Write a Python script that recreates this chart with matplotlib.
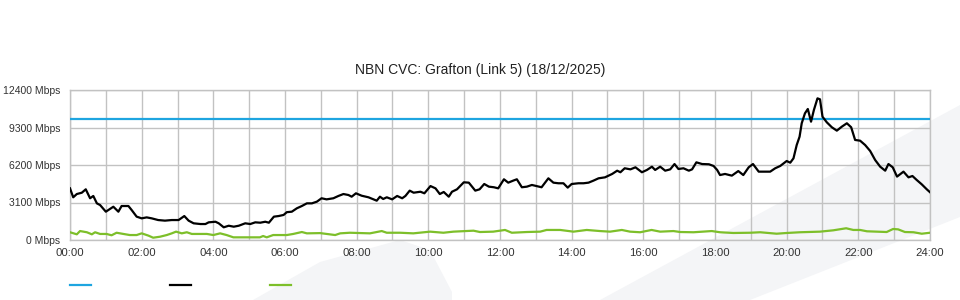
import matplotlib.pyplot as plt
from matplotlib.patches import Polygon
from matplotlib.lines import Line2D

plt.rcParams["font.family"] = ["Liberation Sans", "DejaVu Sans"]

TITLE = "NBN CVC: Grafton (Link 5) (18/12/2025)"

# capacity line (Mbps)
capacity_hours = [0, 24]
capacity_mbps = [10000, 10000]

# download traffic, hours of day vs Mbps
down_hours = [
    0.0, 0.09, 0.19, 0.33, 0.44, 0.56, 0.65, 0.75, 0.84, 1.0,
    1.21, 1.35, 1.44, 1.63, 1.72, 1.86, 2.0, 2.14, 2.28, 2.46,
    2.65, 2.84, 3.03, 3.19, 3.31, 3.45, 3.64, 3.78, 3.87, 4.06,
    4.15, 4.29, 4.43, 4.57, 4.71, 4.89, 5.03, 5.17, 5.31, 5.45,
    5.55, 5.69, 5.82, 5.96, 6.05, 6.19, 6.33, 6.47, 6.61, 6.75,
    6.89, 7.02, 7.16, 7.35, 7.49, 7.63, 7.77, 7.86, 7.98, 8.14,
    8.33, 8.56, 8.65, 8.74, 8.84, 8.99, 9.13, 9.27, 9.36, 9.48,
    9.59, 9.78, 9.89, 10.06, 10.2, 10.32, 10.43, 10.57, 10.66, 10.8,
    10.99, 11.13, 11.31, 11.43, 11.56, 11.69, 11.83, 11.95, 12.11, 12.23,
    12.37, 12.47, 12.61, 12.75, 12.89, 13.02, 13.16, 13.35, 13.49, 13.63,
    13.77, 13.89, 14.0, 14.19, 14.33, 14.47, 14.61, 14.75, 14.93, 15.13,
    15.27, 15.36, 15.48, 15.64, 15.78, 15.96, 16.1, 16.24, 16.33, 16.47,
    16.61, 16.75, 16.87, 16.98, 17.12, 17.27, 17.36, 17.48, 17.64, 17.83,
    17.96, 18.06, 18.14, 18.28, 18.47, 18.65, 18.79, 18.94, 19.06, 19.22,
    19.4, 19.54, 19.68, 19.82, 20.0, 20.1, 20.19, 20.28, 20.36, 20.42,
    20.51, 20.59, 20.68, 20.76, 20.86, 20.93, 21.0, 21.12, 21.26, 21.4,
    21.54, 21.68, 21.8, 21.91, 22.05, 22.19, 22.33, 22.47, 22.61, 22.75,
    22.84, 22.96, 23.08, 23.26, 23.4, 23.51, 23.63, 23.77, 23.91, 24.0,
]
down_mbps = [
    4270, 3530, 3800, 3910, 4190, 3450, 3640, 3030, 2890, 2340,
    2750, 2340, 2810, 2810, 2480, 1930, 1790, 1870, 1790, 1650,
    1600, 1650, 1650, 1980, 1600, 1380, 1320, 1320, 1460, 1510,
    1380, 1050, 1180, 1100, 1180, 1380, 1320, 1460, 1430, 1510,
    1430, 1930, 1980, 2070, 2300, 2340, 2620, 2810, 3030, 3030,
    3170, 3450, 3360, 3450, 3640, 3800, 3720, 3580, 3860, 3660,
    3530, 3250, 3580, 3390, 3530, 3360, 3640, 3450, 3640, 4080,
    3910, 3990, 3860, 4460, 4270, 3800, 3970, 3580, 3990, 4190,
    4770, 4740, 4080, 4190, 4630, 4410, 4360, 4270, 5020, 4740,
    4910, 5020, 4360, 4410, 4550, 4460, 4360, 5100, 4740, 4690,
    4690, 4330, 4630, 4690, 4690, 4740, 4910, 5100, 5180, 5460,
    5730, 5600, 5930, 5840, 6010, 5600, 5790, 6060, 5790, 6060,
    5730, 5840, 6280, 5870, 5930, 5730, 5840, 6420, 6280, 6260,
    6120, 5790, 5370, 5460, 5320, 5700, 5370, 6010, 6280, 5650,
    5650, 5650, 5930, 6120, 6530, 6390, 6750, 7850, 8540, 9650,
    10470, 10830, 9780, 10750, 11710, 11630, 10190, 9730, 9320, 9040,
    9370, 9650, 9320, 8270, 8210, 7850, 7360, 6610, 6060, 5730,
    6280, 6010, 5240, 5650, 5180, 5290, 4960, 4600, 4190, 3950,
]

# upload traffic
up_hours = [
    0.0, 0.19, 0.28, 0.47, 0.61, 0.7, 0.84, 1.02, 1.16, 1.3,
    1.49, 1.67, 1.86, 2.0, 2.19, 2.32, 2.51, 2.7, 2.84, 2.96,
    3.12, 3.26, 3.4, 3.63, 3.82, 4.0, 4.19, 4.37, 4.56, 4.93,
    5.3, 5.39, 5.49, 5.67, 6.05, 6.23, 6.47, 6.61, 6.98, 7.4,
    7.54, 7.81, 8.37, 8.7, 8.84, 9.21, 9.58, 10.05, 10.42, 10.7,
    11.26, 11.44, 11.81, 12.14, 12.33, 12.75, 13.12, 13.3, 13.68, 14.05,
    14.42, 14.79, 15.07, 15.4, 15.63, 15.91, 16.23, 16.47, 16.84, 17.03,
    17.4, 17.91, 18.14, 18.51, 18.98, 19.26, 19.72, 20.0, 20.37, 20.93,
    21.3, 21.66, 21.86, 22.05, 22.24, 22.79, 22.97, 23.11, 23.3, 23.54,
    23.77, 24.0,
]
up_mbps = [
    640, 470, 740, 640, 470, 640, 500, 500, 390, 600,
    500, 410, 410, 550, 360, 190, 270, 410, 550, 690,
    550, 640, 500, 500, 500, 410, 550, 410, 220, 220,
    220, 330, 220, 410, 410, 500, 660, 550, 570, 410,
    550, 600, 550, 740, 600, 600, 550, 690, 600, 690,
    770, 660, 690, 830, 600, 660, 690, 830, 830, 690,
    830, 740, 690, 830, 690, 640, 830, 690, 740, 660,
    640, 740, 640, 580, 600, 640, 520, 580, 640, 690,
    800, 970, 830, 830, 720, 660, 910, 880, 660, 640,
    520, 600,
]

y_ticks = [0, 3100, 6200, 9300, 12400]
x_ticks = list(range(0, 25, 2))
x_tick_labels = [f"{h:02d}:00" for h in x_ticks]

BLUE = "#1ea5e0"
GREEN = "#7dbf2a"
WATERMARK = "#f4f5f7"
GRID = "#c2c2c2"


def px(x, y):
    return (x / 960, 1 - y / 300)


fig = plt.figure(figsize=(9.6, 3.0), dpi=100)

# background watermark shapes
blob = [px(253, 300), px(320, 262), px(400, 240), px(430, 250), px(452, 292), px(452, 300)]
band = [px(600, 300), px(960, 105), px(960, 217), px(750, 300)]
for shape in (blob, band):
    fig.add_artist(Polygon(shape, closed=True, transform=fig.transFigure,
                           facecolor=WATERMARK, edgecolor="none", zorder=0))

ax = fig.add_axes([70 / 960, 60 / 300, 860 / 960, 150 / 300])
ax.set_facecolor("none")

ax.plot(capacity_hours, capacity_mbps, color=BLUE, lw=1.6, zorder=3)
ax.plot(down_hours, down_mbps, color="black", lw=1.6, zorder=4)
ax.plot(up_hours, up_mbps, color=GREEN, lw=1.6, zorder=3)

ax.set_xlim(0, 24)
ax.set_ylim(0, 12400)
ax.set_xticks(x_ticks)
ax.set_xticklabels(x_tick_labels)
ax.set_xticks(range(25), minor=True)
ax.set_yticks(y_ticks)
ax.set_yticklabels([f"{v} Mbps" for v in y_ticks])

ax.grid(True, which="both", color=GRID, lw=1.0)
ax.tick_params(axis="both", which="both", length=0, colors="#333333")
ax.tick_params(axis="y", pad=7, labelsize=7.5)
ax.tick_params(axis="x", pad=6, labelsize=8.2)
for spine in ax.spines.values():
    spine.set_color(GRID)
    spine.set_linewidth(1.0)

fig.text(0.5, 1 - 70 / 300, TITLE, ha="center", va="center", fontsize=10, color="#222222")

# legend swatches without labels
for (x0, color) in [(70, BLUE), (170, "black"), (270, GREEN)]:
    fig.add_artist(Line2D([x0 / 960, (x0 + 21) / 960], [1 - 285 / 300] * 2,
                          transform=fig.transFigure, color=color, lw=1.6))

fig.savefig("out.png", dpi=100)
